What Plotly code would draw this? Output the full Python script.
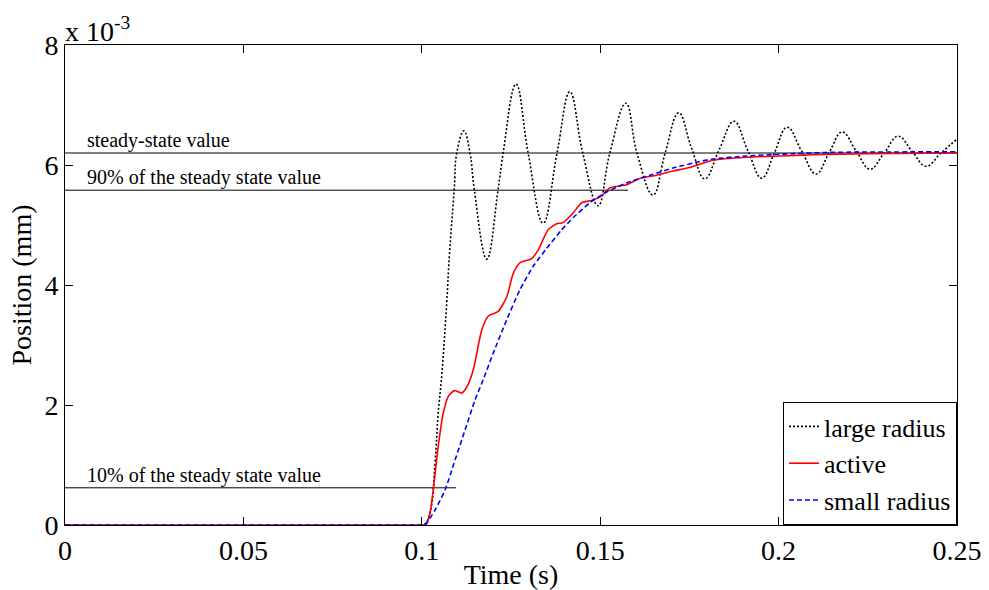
import plotly.graph_objects as go

# Time (s) and position (x 1e-3 mm)
large_t = [0, 0.1, 0.1009, 0.1023, 0.1037, 0.1046, 0.1056, 0.107, 0.1077, 0.1091, 0.1098,
           0.1118, 0.1135, 0.1147, 0.1182, 0.1214, 0.1228, 0.1264, 0.1298, 0.134, 0.1379,
           0.1415, 0.1451, 0.1494, 0.1527, 0.1572, 0.1603, 0.1648, 0.1682, 0.172, 0.1755,
           0.1793, 0.1833, 0.1875, 0.1913, 0.1953, 0.1988, 0.2024, 0.2064, 0.2105, 0.2141,
           0.2178, 0.2217, 0.2256, 0.2296, 0.2335, 0.2374, 0.2413, 0.2455, 0.25]
large_y = [0, 0, 0.02, 0.2, 1.03, 1.86, 2.5, 3.72, 4.47, 5.6, 6.2,
           6.57, 6.2, 5.6, 4.43, 5.6, 6.2, 7.35, 6.2, 5.03, 6.2,
           7.22, 6.2, 5.32, 6.2, 7.03, 6.2, 5.5, 6.2, 6.87, 6.3,
           5.77, 6.25, 6.73, 6.25, 5.78, 6.2, 6.63, 6.24, 5.85, 6.2,
           6.55, 6.24, 5.93, 6.2, 6.48, 6.23, 5.98, 6.2, 6.43]

active_t = [0, 0.1, 0.1007, 0.1014, 0.1023, 0.1032, 0.1046, 0.106, 0.1074, 0.1091, 0.1112,
            0.1126, 0.1144, 0.1168, 0.1186, 0.1214, 0.1238, 0.1256, 0.1275, 0.1308, 0.1326,
            0.1354, 0.1378, 0.1396, 0.1424, 0.1448, 0.1476, 0.15, 0.1528, 0.1574, 0.1612,
            0.1658, 0.1704, 0.1751, 0.1816, 0.191, 0.2004, 0.2096, 0.2247, 0.25]
active_y = [0, 0, 0, 0.03, 0.2, 0.58, 1.31, 1.86, 2.14, 2.24, 2.2,
            2.3, 2.58, 3.25, 3.48, 3.56, 3.8, 4.19, 4.37, 4.44, 4.58,
            4.92, 5.02, 5.04, 5.2, 5.37, 5.41, 5.47, 5.62, 5.67, 5.78,
            5.83, 5.9, 5.96, 6.08, 6.13, 6.15, 6.17, 6.19, 6.2]

small_t = [0, 0.1, 0.1009, 0.1037, 0.1065, 0.1093, 0.1121, 0.1149, 0.1172, 0.12, 0.1238,
           0.1275, 0.1312, 0.135, 0.1392, 0.1424, 0.1471, 0.1518, 0.1574, 0.164, 0.1704,
           0.178, 0.1816, 0.191, 0.2004, 0.2144, 0.25]
small_y = [0, 0, 0, 0.25, 0.58, 1.08, 1.58, 2.08, 2.42, 2.86, 3.42,
           3.92, 4.31, 4.61, 4.92, 5.12, 5.37, 5.55, 5.7, 5.83, 5.95,
           6.06, 6.1, 6.15, 6.18, 6.21, 6.22]

# Reference levels: value and time extent
ref_labels = ["steady-state value", "90% of the steady state value", "10% of the steady state value"]
ref_values = [6.2, 5.58, 0.62]
ref_end_t = [0.25, 0.1578, 0.1096]

x_ticks = [0, 0.05, 0.1, 0.15, 0.2, 0.25]
y_ticks = [0, 2, 4, 6, 8]

FONT = "Liberation Serif"
BIG = 28

fig = go.Figure()

for lbl, v, te in zip(ref_labels, ref_values, ref_end_t):
    fig.add_trace(go.Scatter(x=[0, te], y=[v, v], mode="lines",
                             line=dict(color="black", width=1),
                             showlegend=False, hoverinfo="skip"))
    fig.add_annotation(x=0.0055, y=v, xref="x", yref="y", text=lbl, showarrow=False,
                       xanchor="left", yanchor="bottom", yshift=-1,
                       font=dict(family=FONT, size=20, color="black"))

fig.add_trace(go.Scatter(x=large_t, y=large_y, mode="lines", name="large radius",
                         line=dict(color="black", width=1.6, dash="2px,2px", shape="spline", smoothing=1.2)))
fig.add_trace(go.Scatter(x=active_t, y=active_y, mode="lines", name="active",
                         line=dict(color="red", width=1.6, shape="spline", smoothing=0.6)))
fig.add_trace(go.Scatter(x=small_t, y=small_y, mode="lines", name="small radius",
                         line=dict(color="blue", width=1.6, dash="5px,3px", shape="spline", smoothing=0.6)))

fig.add_annotation(x=0, y=1, xref="paper", yref="paper",
                   text="x 10<sup>-3</sup>", showarrow=False,
                   xanchor="left", yanchor="bottom", yshift=-4, xshift=-2,
                   font=dict(family=FONT, size=BIG, color="black"))

fig.update_layout(
    width=989, height=590,
    margin=dict(l=65, r=32, t=45, b=65),
    paper_bgcolor="white", plot_bgcolor="white",
    font=dict(family=FONT, size=BIG, color="black"),
    xaxis=dict(range=[0, 0.25], tickvals=x_ticks, automargin=False,
               ticktext=[("%g" % v) for v in x_ticks],
               showline=True, linecolor="black", linewidth=1, mirror="ticks",
               ticks="inside", ticklen=8, tickcolor="black", showgrid=False, zeroline=False,
               tickfont=dict(family=FONT, size=BIG, color="black"),
               title=dict(text="Time (s)", standoff=0,
                          font=dict(family=FONT, size=BIG, color="black"))),
    yaxis=dict(range=[0, 8], tickvals=y_ticks, automargin=False,
               showline=True, linecolor="black", linewidth=1, mirror="ticks",
               ticks="inside", ticklen=8, tickcolor="black", showgrid=False, zeroline=False,
               tickfont=dict(family=FONT, size=BIG, color="black"),
               title=dict(text="Position (mm)", standoff=4,
                          font=dict(family=FONT, size=BIG, color="black"))),
    legend=dict(x=1, y=0, xanchor="right", yanchor="bottom",
                bordercolor="black", borderwidth=1, bgcolor="white",
                font=dict(family=FONT, size=26, color="black"),
                tracegroupgap=0),
    showlegend=True,
)

fig.write_html("out.html")
